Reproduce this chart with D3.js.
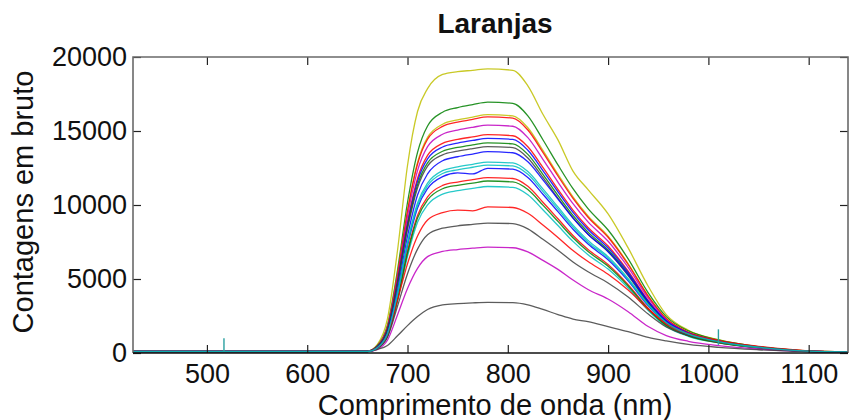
<!DOCTYPE html>
<html><head><meta charset="utf-8">
<script src="https://cdn.jsdelivr.net/npm/d3@7"></script>
<style>body{margin:0;background:#fff} svg{display:block}</style>
</head><body>
<svg id="c" width="849" height="420"></svg>
<script>
// Wavelength grid (nm) shared by all spectra
const wavelengths = [426, 600, 660, 670, 680, 690, 700, 710, 720, 735, 750, 765, 780, 805, 820, 835, 850, 865, 880, 900, 920, 940, 958, 980, 1010, 1050, 1100, 1139];

const seriesColors = ["#BFBF00","#008000","#BFBF00","#FF0000","#BF00BF","#FF0000","#0000FF","#008000","#404040","#0000FF","#00BFBF","#0000FF","#FF0000","#008000","#00BFBF","#FF0000","#404040","#BF00BF","#404040","#00BFBF"];

const s1  = [100,100,130,580,2300,6910,12670,16320,17860,18820,19010,19100,19200,19100,18050,16130,14400,12290,11040,9400,7100,4510,2590,1540,900,420,120,80];
const s2  = [100,100,140,510,1870,5590,10170,13560,15340,16270,16580,16780,16950,16870,16020,14410,12710,11100,9750,8310,6360,4070,2460,1490,880,420,140,70];
const s3  = [100,100,130,480,1770,5310,9660,12880,14570,15460,15750,15940,16100,16020,15220,13690,12080,10550,9260,7890,6040,3860,2340,1420,840,400,130,60];
const s4  = [100,100,130,480,1760,5260,9570,12760,14440,15310,15600,15790,15950,15870,15070,13560,11960,10450,9170,7820,5980,3830,2310,1400,830,400,130,60];
const s5  = [100,100,120,460,1690,5080,9240,12320,13940,14780,15060,15250,15400,15320,14550,13090,11550,10090,8860,7550,5780,3700,2230,1360,800,390,120,60];
const s6  = [100,100,120,440,1620,4870,8850,11800,13350,14160,14430,14600,14750,14680,13940,12540,11060,9660,8480,7230,5530,3540,2140,1300,770,370,120,60];
const s7  = [100,100,120,440,1600,4790,8700,11600,13120,13920,14180,14360,14500,14430,13700,12330,10880,9500,8340,7100,5440,3480,2100,1280,750,360,120,60];
const s8  = [100,100,110,430,1560,4690,8520,11360,12850,13630,13890,14060,14200,14130,13420,12070,10650,9300,8170,6960,5330,3410,2060,1250,740,360,110,60];
const s9  = [100,100,110,420,1540,4600,8370,11160,12630,13390,13640,13810,13950,13880,13180,11860,10460,9140,8020,6840,5230,3350,2020,1230,730,350,110,60];
const s10 = [100,100,110,380,1360,4220,7890,10680,12100,12990,13260,13440,13600,13530,12920,11700,10400,9110,8020,6860,5300,3470,2180,1360,820,410,120,70];
const s12 = [100,100,100,360,1270,3940,7370,9970,11300,12130,12380,12550,12700,12640,12070,10920,9720,8510,7490,6410,4950,3240,2030,1270,760,380,110,60];
const s13 = [100,100,100,350,1250,3870,7240,9800,11110,11920,12170,12100,12480,12420,11860,10730,9550,8360,7360,6300,4870,3180,2000,1250,750,370,110,60];
const s14 = [100,100,100,330,1190,3670,6870,9300,10550,11320,11550,11710,11850,11790,11260,10190,9070,7940,6990,5980,4620,3020,1900,1190,710,360,110,60];
const s15 = [100,100,100,330,1160,3600,6740,9120,10340,11100,11330,11480,11620,11560,11040,9990,8890,7790,6860,5860,4530,2960,1860,1160,700,350,110,60];
const s16 = [100,100,100,320,1130,3490,6530,8830,10010,10740,10970,11120,11250,11190,10690,9680,8610,7540,6640,5670,4390,2870,1800,1130,680,340,100,60];
const s17 = [100,100,100,350,1190,3560,6030,7900,8990,9490,9660,9600,9880,9830,9440,8650,7810,6920,6180,5320,4250,2960,1980,1330,840,450,150,90];
const s18 = [100,100,100,310,1050,3160,5360,7020,7990,8430,8590,8690,8780,8740,8390,7680,6940,6150,5490,4730,3780,2630,1760,1190,750,400,130,80];
const s19 = [100,100,100,250,860,2570,4360,5720,6510,6860,6990,7080,7150,7110,6830,6260,5650,4930,4290,3650,2790,1790,1180,790,500,270,90,60];
const s20 = [90,90,100,240,510,1160,1850,2460,2940,3250,3340,3390,3420,3400,3250,2940,2600,2290,2120,1780,1440,1060,820,580,380,220,100,70];
const s11 = [100,100,100,360,1290,4000,7480,10130,11480,12320,12580,12750,12900,12840,12260,11090,9870,8640,7610,6510,5030,3290,2060,1290,770,390,120,70];

const seriesValues = [s1,s2,s3,s4,s5,s6,s7,s8,s9,s10,s16,s13,s14,s15,s12,s17,s18,s19,s20,s11];

// narrow spikes seen in one spectrum
const spikeWavelengths = [517, 1010];
const spikeLow = [90, 550];
const spikeHigh = [990, 1600];

const xTicks = [500, 600, 700, 800, 900, 1000, 1100];
const yTicks = [0, 5000, 10000, 15000, 20000];
const titleText = "Laranjas";
const xLabel = "Comprimento de onda (nm)";
const yLabel = "Contagens em bruto";

const L = 133, R = 848, T = 57, B = 353;
const svg = d3.select("#c");
const font = "'Liberation Sans', Arial, sans-serif";

const x = d3.scaleLinear().domain([426.3, 1139.2]).range([L, R]);
const y = d3.scaleLinear().domain([0, 20000]).range([B, T]);

svg.append("defs").append("clipPath").attr("id","clip")
  .append("rect").attr("x",L).attr("y",T).attr("width",R-L).attr("height",B-T);

const g = svg.append("g").attr("clip-path","url(#clip)");
const line = d3.line().x((d,i)=>x(wavelengths[i])).y(d=>y(d)).curve(d3.curveMonotoneX);

seriesValues.forEach((vals, k) => {
  g.append("path").attr("d", line(vals)).attr("fill","none")
    .attr("stroke", seriesColors[k]).attr("stroke-width",1.3).attr("stroke-opacity",0.85);
});

g.selectAll("line.spike").data(spikeWavelengths).enter().append("line")
  .attr("x1", d=>x(d)).attr("x2", d=>x(d))
  .attr("y1", (d,i)=>y(spikeLow[i])).attr("y2", (d,i)=>y(spikeHigh[i]))
  .attr("stroke","#2aa0a0").attr("stroke-width",1.4);

// axes
function styleAxis(sel){
  sel.selectAll(".domain").remove();
  sel.selectAll(".tick line").attr("stroke","#222").attr("stroke-width",1.2);
  sel.selectAll("text").attr("font-family",font).attr("font-size",27).attr("fill","#111");
}
const ax = svg.append("g").attr("transform",`translate(0,${B})`)
  .call(d3.axisBottom(x).tickValues(xTicks).tickSize(-8).tickPadding(11).tickFormat(d3.format("d")));
styleAxis(ax);
const axT = svg.append("g").attr("transform",`translate(0,${T})`)
  .call(d3.axisTop(x).tickValues(xTicks).tickSize(-8).tickFormat(""));
styleAxis(axT);
const ay = svg.append("g").attr("transform",`translate(${L},0)`)
  .call(d3.axisLeft(y).tickValues(yTicks).tickSize(-8).tickPadding(6).tickFormat(d3.format("d")));
styleAxis(ay);
const ayR = svg.append("g").attr("transform",`translate(${R},0)`)
  .call(d3.axisRight(y).tickValues(yTicks).tickSize(-8).tickFormat(""));
styleAxis(ayR);

// box
svg.append("path").attr("d",`M${L},${B}V${T}H${R}V${B}`).attr("fill","none")
  .attr("stroke","#6a6a6a").attr("stroke-width",1.6);
svg.append("line").attr("x1",L).attr("x2",R).attr("y1",B).attr("y2",B)
  .attr("stroke","#111").attr("stroke-width",1.6);

// titles
svg.append("text").attr("x",495).attr("y",33).attr("text-anchor","middle")
  .attr("font-family",font).attr("font-size",28).attr("font-weight","bold").attr("fill","#111").text(titleText);
svg.append("text").attr("x",495).attr("y",415).attr("text-anchor","middle")
  .attr("font-family",font).attr("font-size",29).attr("fill","#111").text(xLabel);
svg.append("text").attr("transform","translate(33,202) rotate(-90)").attr("text-anchor","middle")
  .attr("font-family",font).attr("font-size",29).attr("fill","#111").text(yLabel);
</script>
</body></html>
